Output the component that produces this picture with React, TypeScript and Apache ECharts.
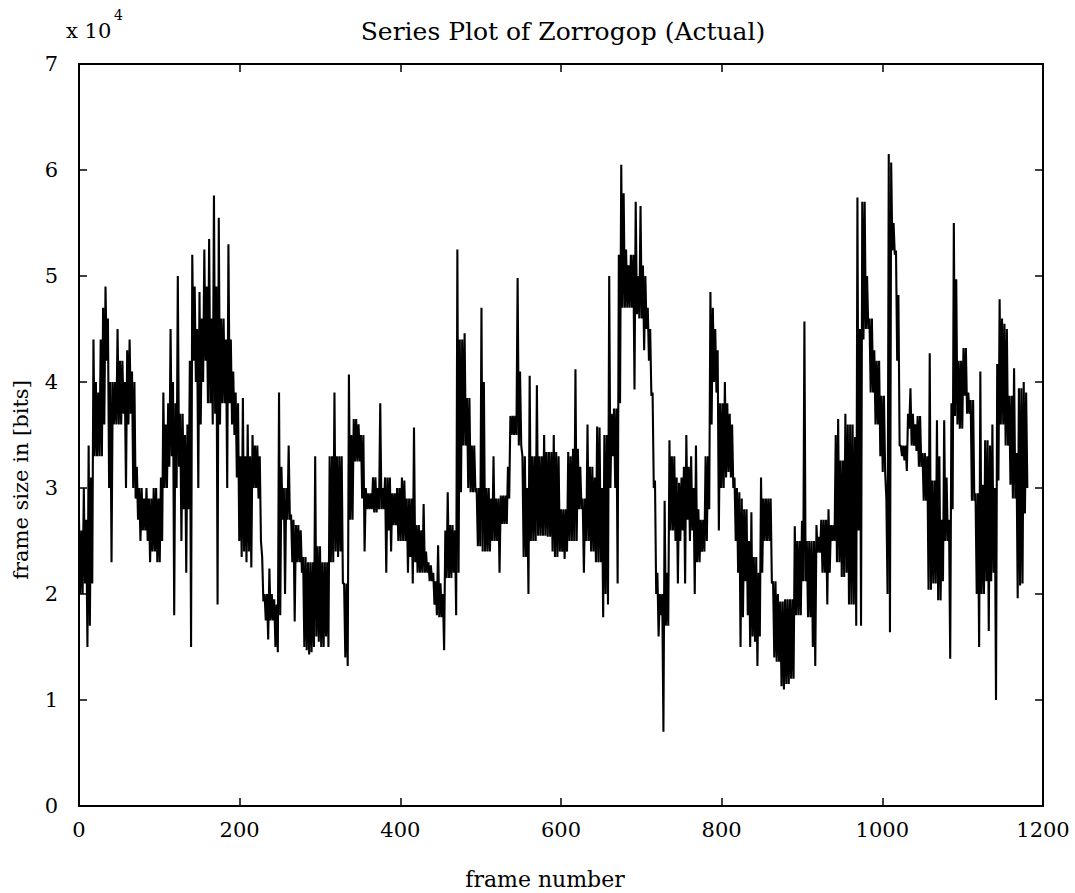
import React, { useEffect, useRef } from "react";
import * as echarts from "echarts";

// Frame sizes in units of 10^4 bits, read per 3-frame bucket (frames 0..1179):
// the highest and lowest frame size in each bucket (the trace alternates between them).
const BUCKET_FRAMES = 3;
const bucketHigh = [
  2.7, 2.6, 3.0, 2.7, 3.4, 3.1, 4.4, 4.0,
  3.9, 4.4, 4.7, 4.9, 4.6, 4.0, 4.0, 4.0,
  4.5, 4.2, 4.2, 4.0, 4.3, 4.4, 4.1, 4.0,
  3.2, 3.0, 3.0, 2.9, 3.0, 2.9, 2.9, 3.0,
  3.0, 2.9, 3.1, 3.9, 3.6, 3.8, 4.5, 4.0,
  3.8, 5.0, 3.7, 3.7, 3.5, 3.6, 4.2, 5.2,
  4.9, 4.5, 4.85, 4.6, 5.25, 4.9, 5.35, 4.6,
  5.76, 4.9, 5.55, 4.6, 4.6, 4.4, 5.3, 4.4,
  4.1, 3.9, 3.8, 3.3, 3.85, 3.3, 3.6, 3.3,
  3.5, 3.4, 3.4, 3.3, 2.35, 2.0, 2.0, 2.24,
  2.0, 1.95, 1.9, 3.9, 3.2, 3.0, 3.0, 3.4,
  2.75, 2.7, 2.65, 2.65, 2.6, 2.35, 2.35, 2.3,
  2.3, 2.3, 3.3, 2.45, 2.45, 2.3, 2.3, 2.3,
  3.3, 3.3, 3.9, 3.3, 3.3, 3.3, 2.1, 2.1,
  4.07, 3.5, 3.65, 3.65, 3.6, 3.5, 3.5, 3.0,
  2.95, 2.95, 3.1, 3.1, 3.0, 3.8, 3.0, 3.1,
  3.1, 3.1, 2.95, 2.95, 3.0, 3.0, 3.1, 3.07,
  2.9, 2.9, 2.9, 3.57, 2.65, 2.65, 2.6, 2.85,
  2.4, 2.3, 2.27, 2.2, 2.12, 2.46, 2.1, 2.0,
  2.6, 2.96, 2.65, 2.65, 2.6, 5.25, 4.4, 4.4,
  4.46, 3.85, 3.85, 3.4, 3.4, 3.0, 3.0, 4.7,
  4.0, 3.0, 3.0, 2.9, 3.3, 2.9, 2.9, 2.93,
  2.93, 2.93, 3.2, 3.68, 3.68, 3.68, 4.98, 4.1,
  3.3, 3.3, 3.0, 4.06, 3.3, 3.3, 3.97, 3.3,
  3.3, 3.5, 3.34, 3.34, 3.34, 3.5, 3.34, 3.3,
  2.8, 2.8, 2.8, 3.34, 3.3, 3.37, 4.12, 3.37,
  3.2, 2.9, 2.9, 3.6, 3.2, 3.2, 3.1, 3.58,
  3.57, 3.0, 3.5, 3.5, 5.0, 3.7, 3.75, 3.75,
  5.2, 6.05, 5.78, 5.25, 5.1, 5.2, 5.2, 5.7,
  5.0, 5.66, 5.1, 5.0, 4.7, 4.5, 3.9, 3.07,
  2.2, 2.0, 2.0, 2.88, 2.2, 3.45, 3.3, 3.3,
  3.1, 3.05, 3.1, 3.2, 3.5, 3.2, 3.3, 3.0,
  3.4, 2.8, 2.7, 2.7, 3.3, 3.3, 4.85, 4.7,
  4.5, 4.3, 3.8, 3.8, 4.0, 3.8, 3.7, 3.6,
  3.1, 3.0, 2.96, 2.9, 2.8, 2.8, 2.5, 2.77,
  2.35, 2.35, 2.2, 3.1, 2.9, 2.9, 2.9, 2.9,
  2.12, 2.12, 2.0, 1.93, 1.93, 1.95, 1.95, 1.95,
  1.95, 2.64, 2.5, 2.5, 2.69, 4.57, 2.5, 2.5,
  2.5, 2.5, 2.65, 2.54, 2.7, 2.7, 2.7, 2.8,
  2.65, 2.65, 3.5, 3.65, 3.26, 3.26, 3.7, 3.6,
  3.6, 3.6, 3.48, 5.74, 4.5, 5.7, 5.7, 5.0,
  4.6, 4.6, 4.3, 4.2, 4.2, 3.87, 3.87, 2.9,
  6.15, 6.07, 5.5, 5.24, 4.82, 3.4, 3.4, 3.4,
  3.7, 3.94, 3.7, 3.6, 3.68, 3.68, 3.33, 3.33,
  3.3, 4.27, 3.07, 3.07, 3.64, 3.3, 2.7, 3.64,
  3.1, 2.7, 3.8, 5.5, 4.97, 4.2, 4.2, 4.32,
  4.32, 3.9, 3.83, 3.83, 2.95, 2.95, 4.1, 3.03,
  3.45, 3.45, 3.4, 3.6, 3.0, 4.17, 4.78, 4.6,
  4.55, 4.5, 3.87, 3.87, 4.13, 3.33, 3.94, 3.94,
  4.0, 3.9,
];
const bucketLow = [
  2.0, 2.0, 2.1, 1.5, 1.7, 2.1, 3.3, 3.3,
  3.3, 3.3, 3.6, 4.2, 3.0, 2.3, 3.6, 3.6,
  3.6, 3.6, 3.7, 3.0, 3.6, 3.7, 3.0, 2.9,
  2.7, 2.5, 2.6, 2.6, 2.5, 2.3, 2.4, 2.4,
  2.3, 2.3, 2.5, 3.0, 3.0, 3.2, 3.3, 1.8,
  3.0, 3.2, 2.5, 2.8, 2.2, 2.8, 1.5, 4.2,
  4.0, 3.0, 3.6, 4.0, 4.2, 3.8, 3.8, 3.6,
  3.7, 1.9, 3.6, 3.8, 3.8, 3.0, 3.8, 3.6,
  3.5, 3.1, 2.5, 2.35, 2.4, 2.3, 2.4, 2.25,
  3.0, 3.0, 2.9, 2.5, 1.93, 1.75, 1.57, 1.75,
  1.75, 1.5, 1.45, 1.8, 2.7, 2.0, 2.7, 2.7,
  2.3, 1.74, 2.3, 2.3, 2.2, 1.5, 1.47, 1.43,
  1.45, 1.5, 1.6, 1.55, 1.5, 1.5, 1.6, 1.5,
  2.3, 2.3, 2.4, 2.35, 2.4, 2.1, 1.4, 1.32,
  2.7, 2.7, 3.25, 3.25, 3.25, 2.9, 2.4, 2.8,
  2.8, 2.8, 2.77, 2.77, 2.8, 2.8, 2.8, 2.2,
  2.6, 2.4, 2.65, 2.65, 2.5, 2.5, 2.5, 2.5,
  2.2, 2.35, 2.1, 2.3, 2.2, 2.2, 2.2, 2.2,
  2.2, 2.12, 2.12, 1.9, 1.8, 1.78, 1.78, 1.47,
  2.15, 2.15, 2.15, 2.2, 1.8, 2.2, 2.96, 3.4,
  3.4, 3.0, 2.96, 2.96, 2.96, 2.45, 2.45, 2.4,
  2.4, 2.4, 2.4, 2.5, 2.5, 2.5, 2.2, 2.66,
  2.66, 2.66, 2.9, 3.5, 3.5, 3.5, 3.4, 3.4,
  2.35, 2.35, 2.0, 2.5, 2.5, 2.5, 2.55, 2.55,
  2.55, 2.55, 2.54, 2.54, 2.4, 2.35, 2.35, 2.4,
  2.4, 2.33, 2.4, 2.5, 2.5, 2.5, 2.5, 2.8,
  2.8, 2.2, 2.5, 2.5, 2.4, 2.4, 2.3, 2.3,
  2.3, 1.78, 2.0, 1.9, 3.0, 3.3, 3.0, 2.1,
  3.8, 4.7, 4.7, 4.7, 4.7, 4.7, 3.93, 4.64,
  4.6, 4.6, 4.3, 4.5, 4.2, 3.87, 3.0, 2.0,
  1.6, 1.8, 0.7, 1.7, 1.7, 2.6, 2.6, 2.5,
  2.1, 2.5, 2.6, 2.1, 2.7, 2.5, 2.6, 2.0,
  2.3, 2.3, 2.4, 2.4, 2.5, 2.8, 3.6, 4.0,
  3.9, 2.6, 3.0, 3.0, 3.1, 3.15, 3.1, 3.0,
  2.5, 2.2, 1.5, 1.78, 2.12, 1.8, 1.5, 1.6,
  1.55, 1.32, 1.6, 2.2, 2.5, 2.5, 2.5, 2.1,
  1.4, 1.36, 1.36, 1.13, 1.1, 1.15, 1.15, 1.2,
  1.2, 1.8, 1.8, 1.8, 2.12, 2.12, 1.78, 1.78,
  1.5, 1.32, 2.39, 2.39, 2.2, 2.2, 1.9, 2.2,
  2.5, 2.5, 2.3, 2.3, 2.16, 2.16, 2.2, 1.9,
  1.9, 1.9, 1.7, 2.6, 1.7, 4.4, 4.5, 4.5,
  3.9, 3.9, 3.6, 3.6, 3.3, 3.15, 3.15, 2.0,
  1.64, 5.24, 5.2, 4.2, 3.4, 3.3, 3.26, 3.16,
  3.56, 3.4, 3.4, 3.35, 3.2, 3.2, 2.88, 2.88,
  2.04, 2.04, 2.1, 2.1, 1.94, 1.94, 2.12, 2.5,
  2.5, 1.39, 2.8, 3.68, 3.6, 3.56, 3.56, 3.87,
  3.7, 3.7, 2.88, 2.88, 2.0, 1.5, 2.0, 2.0,
  2.12, 1.65, 2.12, 2.2, 1.0, 3.07, 3.6, 3.6,
  3.4, 3.4, 3.03, 2.9, 2.9, 1.96, 2.08, 2.1,
  2.76, 3.0,
];

const X_MIN = 0;
const X_MAX = 1200;
const X_STEP = 200;
const Y_MIN = 0;
const Y_MAX = 7;
const Y_STEP = 1;

const TITLE = "Series Plot of Zorrogop (Actual)";
const X_NAME = "frame number";
const Y_NAME = "frame size in [bits]";
const SCALE_TEXT = "x 10";
const SCALE_EXP = "4";

export default function App() {
  const ref = useRef<HTMLDivElement>(null);

  useEffect(() => {
    if (!ref.current) return;
    const chart = echarts.init(ref.current, null, { renderer: "svg" });
    const data: number[][] = [];
    bucketHigh.forEach((hi, i) => {
      const f = i * BUCKET_FRAMES;
      data.push([f, hi]);
      data.push([f + BUCKET_FRAMES / 2, bucketLow[i]]);
    });
    const font = "'DejaVu Serif', 'Liberation Serif', serif";
    const grid = { left: 79, right: 32, top: 64, bottom: 87 };
    const axisLine = { show: true, onZero: false, lineStyle: { color: "#000", width: 2 } };
    const tick = { show: true, inside: true, length: 8, lineStyle: { color: "#000", width: 1.5 } };
    const label = { fontFamily: font, fontSize: 21, color: "#000" };

    chart.setOption({
      animation: false,
      backgroundColor: "#fff",
      grid: { ...grid, containLabel: false },
      xAxis: [
        {
          type: "value", min: X_MIN, max: X_MAX, interval: X_STEP, position: "bottom",
          axisLine, axisTick: tick,
          axisLabel: { ...label, margin: 13, formatter: (v: number) => String(v) },
          splitLine: { show: false },
        },
        {
          type: "value", min: X_MIN, max: X_MAX, interval: X_STEP, position: "top",
          axisLine, axisTick: tick, axisLabel: { show: false }, splitLine: { show: false },
        },
      ],
      yAxis: [
        {
          type: "value", min: Y_MIN, max: Y_MAX, interval: Y_STEP, position: "left",
          axisLine, axisTick: tick,
          axisLabel: { ...label, margin: 21 },
          splitLine: { show: false },
        },
        {
          type: "value", min: Y_MIN, max: Y_MAX, interval: Y_STEP, position: "right",
          axisLine, axisTick: tick, axisLabel: { show: false }, splitLine: { show: false },
        },
      ],
      series: [
        {
          type: "line",
          name: "frame size",
          data,
          xAxisIndex: 0,
          yAxisIndex: 0,
          symbol: "none",
          showSymbol: false,
          clip: true,
          lineStyle: { color: "#000", width: 2.1 },
        },
      ],
      graphic: [
        {
          type: "text", x: 563, y: 31,
          style: { text: TITLE, fontFamily: font, fontSize: 25, fill: "#000", textAlign: "center", textVerticalAlign: "middle" },
        },
        {
          type: "text", x: 66, y: 31,
          style: { text: SCALE_TEXT, fontFamily: font, fontSize: 21, fill: "#000", textAlign: "left", textVerticalAlign: "middle" },
        },
        {
          type: "text", x: 114, y: 15,
          style: { text: SCALE_EXP, fontFamily: font, fontSize: 14, fill: "#000", textAlign: "left", textVerticalAlign: "middle" },
        },
        {
          type: "text", x: 545, y: 879,
          style: { text: X_NAME, fontFamily: font, fontSize: 22, fill: "#000", textAlign: "center", textVerticalAlign: "middle" },
        },
        {
          type: "text", x: 21, y: 480, rotation: Math.PI / 2,
          style: { text: Y_NAME, fontFamily: font, fontSize: 21, fill: "#000", textAlign: "center", textVerticalAlign: "middle" },
        },
      ],
    });
    return () => chart.dispose();
  }, []);

  return <div ref={ref} style={{ position: "fixed", left: 0, top: 0, width: 1075, height: 893 }} />;
}
